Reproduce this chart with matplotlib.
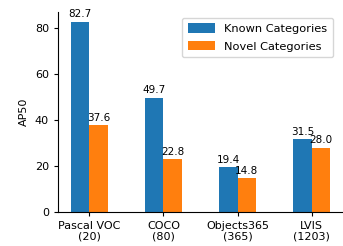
import matplotlib
matplotlib.use('Agg')
import matplotlib.pyplot as plt
import numpy as np

datasets = ['Pascal VOC\n(20)', 'COCO\n(80)', 'Objects365\n(365)', 'LVIS\n(1203)']
known = [82.7, 49.7, 19.4, 31.5]
novel = [37.6, 22.8, 14.8, 28.0]

W, H = 343, 246
fig = plt.figure(figsize=(W / 100, H / 100), dpi=100)
ax = fig.add_axes([58 / W, (H - 212) / H, (W - 58) / W, 200 / H])

x = np.arange(len(datasets))
w = 0.25
b1 = ax.bar(x - w / 2, known, w, color='#1f77b4', label='Known Categories')
b2 = ax.bar(x + w / 2, novel, w, color='#ff7f0e', label='Novel Categories')

for bars in (b1, b2):
    for r in bars:
        ax.text(r.get_x() + r.get_width() / 2, r.get_height() + 1.0,
                '{:.1f}'.format(r.get_height()), ha='center', va='bottom', fontsize=7.5)

ax.set_xticks(x)
ax.set_xticklabels(datasets, fontsize=8, linespacing=1.05)
ax.set_yticks([0, 20, 40, 60, 80])
ax.tick_params(labelsize=8, length=3)
ax.set_ylabel('AP50', fontsize=8)
ax.spines['top'].set_visible(False)
ax.spines['right'].set_visible(False)
ax.legend(loc='upper right', fontsize=8.2, handlelength=2.4, handleheight=0.9,
          labelspacing=0.6, borderpad=0.5, bbox_to_anchor=(0.985, 1.0))

fig.savefig('out.png', dpi=100)
